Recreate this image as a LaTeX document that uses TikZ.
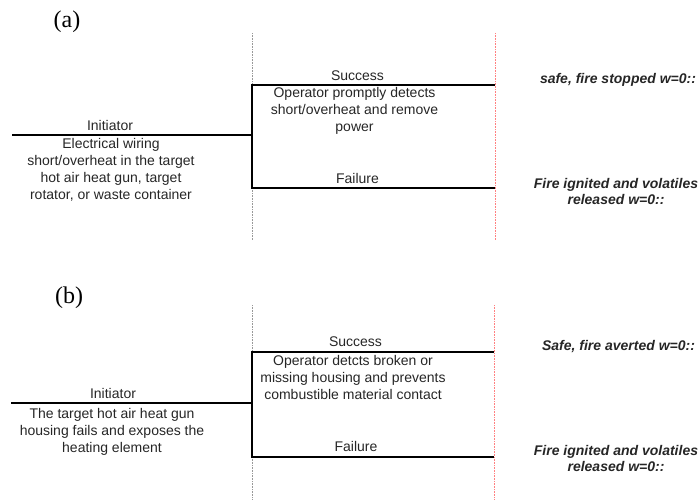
\documentclass[tikz,border=0pt]{standalone}
\usepackage{fontspec}
\setsansfont{Liberation Sans}
\newfontfamily\panelfont{Liberation Serif}
\begin{document}
\begin{tikzpicture}[x=1pt,y=-1pt,
  branch/.style={line width=2.8pt,line join=miter},
  gridgrey/.style={line width=0.8pt,draw=black!40,dash pattern=on 0.8pt off 0.8pt},
  gridred/.style={line width=0.8pt,draw=red!50,dash pattern=on 0.8pt off 0.8pt},
  lbl/.style={inner sep=0pt,font=\sffamily\fontsize{14}{17}\selectfont,text=black!85,align=center},
  outc/.style={inner sep=0pt,font=\sffamily\bfseries\itshape\fontsize{14}{16.5}\selectfont,text=black!85,align=center},
  panel/.style={inner sep=0pt,font=\panelfont\fontsize{24}{27}\selectfont,anchor=base}]
\useasboundingbox (0,0) rectangle (700,499);
% ---------------- (a) ----------------
\node[panel] (pa) at (67,27) {(a)};
\draw[gridgrey] (252,33) coordinate (ga1) -- (252,240) coordinate (ga2);
\draw[gridred] (495,33) coordinate (ra1) -- (495,240) coordinate (ra2);
\coordinate (a0) at (12,135);
\coordinate (aj) at (252,135);
\coordinate (as) at (252,85);
\coordinate (asE) at (495,85);
\coordinate (af) at (252,188);
\coordinate (afE) at (495,188);
\draw[branch] (a0) -- (aj);
\draw[branch] (asE) -- (as) -- (af) -- (afE);
\node[lbl,anchor=base] (ainit) at (110,130.5) {Initiator};
\node[lbl,anchor=north] (adesc) at (111,138.5) {Electrical wiring\\short/overheat in the target\\hot air heat gun, target\\rotator, or waste container};
\node[lbl,anchor=base] (asucc) at (357.5,80) {Success};
\node[lbl,anchor=north] (aop) at (354.5,87) {Operator promptly detects\\short/overheat and remove\\power};
\node[lbl,anchor=base] (afail) at (357.5,183.5) {Failure};
\node[outc,anchor=base] (aout1) at (618,83) {safe, fire stopped w=0::};
\node[outc,anchor=north] (aout2) at (616,178) {Fire ignited and volatiles\\released w=0::};
% ---------------- (b) ----------------
\node[panel] (pb) at (69,303) {(b)};
\draw[gridgrey] (252,305) coordinate (gb1) -- (252,499) coordinate (gb2);
\draw[gridred] (494,305) coordinate (rb1) -- (494,499) coordinate (rb2);
\coordinate (b0) at (11,403);
\coordinate (bj) at (252,403);
\coordinate (bs) at (252,352);
\coordinate (bsE) at (494,352);
\coordinate (bf) at (252,457);
\coordinate (bfE) at (494,457);
\draw[branch] (b0) -- (bj);
\draw[branch] (bsE) -- (bs) -- (bf) -- (bfE);
\node[lbl,anchor=base] (binit) at (113,398) {Initiator};
\node[lbl,anchor=north] (bdesc) at (112,408) {The target hot air heat gun\\housing fails and exposes the\\heating element};
\node[lbl,anchor=base] (bsucc) at (355.5,346) {Success};
\node[lbl,anchor=north] (bop) at (353,355) {Operator detcts broken or\\missing housing and prevents\\combustible material contact};
\node[lbl,anchor=base] (bfail) at (356,451.5) {Failure};
\node[outc,anchor=base] (bout1) at (618.5,350) {Safe, fire averted w=0::};
\node[outc,anchor=north] (bout2) at (616,445) {Fire ignited and volatiles\\released w=0::};
\end{tikzpicture}
\end{document}
